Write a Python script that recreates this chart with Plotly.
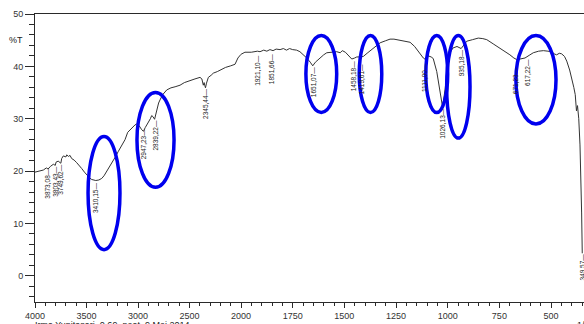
import plotly.graph_objects as go

# ---- spectrum data (wavenumber cm-1, %T) ----
wn_high = [4000, 3950, 3919, 3890, 3873, 3850, 3822, 3803, 3796, 3775, 3749, 3741, 3725, 3700,
           3692, 3675, 3660, 3644, 3620, 3595, 3570, 3547, 3520, 3498, 3470, 3450, 3410, 3380,
           3352, 3330, 3304, 3280, 3255, 3223, 3190, 3158, 3126, 3100, 3061, 3030, 3013, 2990,
           2964, 2947, 2930, 2900, 2880, 2867, 2855, 2839, 2820, 2800, 2786, 2760, 2721, 2680,
           2640, 2592, 2550, 2500, 2447, 2398, 2380, 2366, 2358, 2352, 2345, 2335, 2317, 2290,
           2269, 2230, 2188, 2150, 2100, 2058, 2030, 2000]
t_high = [19.8, 20.0, 20.2, 20.6, 20.4, 20.9, 21.3, 21.1, 21.7, 21.9, 21.5, 22.4, 22.9, 22.7,
          23.1, 22.8, 23.0, 22.4, 22.1, 21.6, 21.1, 20.5, 19.8, 19.25, 18.7, 18.4, 18.2, 18.3,
          18.6, 19.1, 19.9, 20.7, 21.5, 22.6, 23.8, 24.9, 26.0, 27.4, 28.3, 28.8, 29.0, 28.7,
          27.9, 27.6, 28.3, 29.2, 30.0, 30.6, 30.4, 29.9, 31.6, 33.0, 33.6, 34.6, 35.5, 35.9,
          36.1, 36.4, 36.9, 37.3, 37.6, 37.9, 37.6, 36.4, 36.9, 36.4, 35.9, 36.8, 37.9, 38.3,
          38.7, 39.0, 39.4, 39.8, 40.1, 40.4, 41.6, 42.3]

wn_low = [2000, 1981, 1950, 1921, 1908, 1890, 1875, 1860, 1845, 1830, 1811, 1795, 1780, 1765,
          1750, 1731, 1715, 1700, 1682, 1665, 1653, 1640, 1618, 1600, 1585, 1560, 1537, 1520,
          1510, 1495, 1480, 1464, 1450, 1440, 1420, 1408, 1390, 1368, 1345, 1327, 1300, 1279,
          1260, 1231, 1200, 1182, 1160, 1150, 1130, 1118, 1107, 1094, 1080, 1070, 1053, 1037,
          1026, 1020, 1010, 1000, 990, 975, 955, 935, 920, 908, 880, 852, 830, 811, 780, 747,
          720, 699, 680, 666, 650, 626, 606, 586, 560, 537, 515, 497, 485, 473, 460, 449, 435,
          424, 410, 400, 390, 383, 377, 372, 366, 360, 355, 352, 349]
t_low = [42.3, 42.7, 42.7, 42.9, 42.8, 43.1, 42.9, 43.2, 43.0, 43.3, 43.2, 43.4, 43.1, 43.4,
         43.2, 43.1, 42.8, 42.3, 41.6, 40.8, 40.1, 40.8, 41.6, 42.2, 42.6, 42.7, 42.8, 42.6,
         43.0, 42.7, 42.0, 41.4, 41.6, 41.8, 41.8, 41.9, 42.5, 43.2, 43.9, 44.5, 44.9, 45.2,
         45.2, 45.0, 44.8, 44.6, 43.8, 43.3, 42.3, 41.6, 41.3, 42.0, 41.8, 41.5, 39.0, 35.2,
         32.5, 33.5, 36.5, 40.0, 42.5, 43.5, 43.8, 43.4, 44.2, 44.8, 45.1, 45.4, 45.3, 45.1,
         44.3, 43.5, 42.8, 42.2, 41.6, 41.3, 41.4, 41.6, 42.1, 42.6, 42.9, 43.0, 42.9, 42.8,
         42.4, 42.2, 42.5, 42.4, 41.9, 41.0, 39.3, 37.8, 36.0, 34.6, 31.5, 32.5, 30.0, 25.0,
         18.0, 12.0, 4.3]

# ---- peak labels: (wavenumber, text, %T of label centre) ----
peak_wn = [3873.08, 3803.43, 3749.62, 3410.15, 2947.23, 2839.22, 2345.44, 1921.10, 1851.66,
           1651.07, 1458.18, 1419.61, 1111.00, 1026.13, 935.18, 671.23, 617.22, 349.57]
peak_txt = ["3873,08", "3803,43", "3749,62", "3410,15", "2947,23", "2839,22", "2345,44",
            "1921,10", "1851,66", "1651,07", "1458,18", "1419,61", "1111,00", "1026,13",
            "935,18", "671,23", "617,22", "349,57"]
peak_lbl_y = [17.6, 18.0, 18.3, 14.8, 25.2, 26.7, 32.9, 39.2, 39.4, 37.0, 38.1, 37.5, 37.9,
              29.1, 40.6, 37.3, 38.9, 1.6]

# ---- blue circled regions (x0, x1, y0, y1) ----
ell_high = [(3485, 3175, 5.0, 26.6), (3010, 2650, 16.9, 35.0)]
ell_low = [(1686, 1537, 31.2, 45.9), (1428, 1319, 31.2, 45.9), (1106, 1000, 31.2, 45.9),
           (1005, 892, 26.3, 45.9), (670, 476, 29.0, 45.9)]

x_ticks_high = [4000, 3500, 3000, 2500]
x_ticks_low = [2000, 1750, 1500, 1250, 1000, 750, 500]

LINE = "#333333"
AX = "#2a2a2a"
FONT = "Liberation Sans, Arial, sans-serif"

fig = go.Figure()
fig.add_trace(go.Scatter(x=wn_high, y=t_high, mode="lines", xaxis="x", yaxis="y",
                         line=dict(color=LINE, width=1), showlegend=False, hoverinfo="skip"))
fig.add_trace(go.Scatter(x=wn_low, y=t_low, mode="lines", xaxis="x2", yaxis="y",
                         line=dict(color=LINE, width=1), showlegend=False, hoverinfo="skip"))

W, H = 584, 324
ml, mr, mt, mb = 35, 0, 14, 22
pw = W - ml - mr
ph = H - mt - mb
split = 206 / pw

common_x = dict(showgrid=False, zeroline=False, showline=True, linecolor=AX, linewidth=1,
                mirror=True, ticks="outside", ticklen=5, tickcolor=AX,
                tickfont=dict(family=FONT, size=9, color="#333"))

fig.update_layout(
    width=W, height=H, margin=dict(l=ml, r=mr, t=mt, b=mb),
    paper_bgcolor="white", plot_bgcolor="white",
    xaxis=dict(domain=[0, split], range=[4000, 2000], tickmode="array",
               tickvals=x_ticks_high, ticktext=[str(v) for v in x_ticks_high],
               minor=dict(dtick=100, tick0=0, ticks="outside", ticklen=3, tickcolor=AX),
               anchor="y", **common_x),
    xaxis2=dict(domain=[split, 1], range=[2000, 340.6], tickmode="array",
                tickvals=x_ticks_low, ticktext=[str(v) for v in x_ticks_low],
                minor=dict(dtick=50, tick0=0, ticks="outside", ticklen=3, tickcolor=AX),
                anchor="y", **common_x),
    yaxis=dict(range=[-5, 50], dtick=10, tick0=0, showgrid=False, zeroline=False,
               showline=True, linecolor=AX, linewidth=1, ticks="outside", ticklen=9,
               tickcolor=AX, tickfont=dict(family=FONT, size=9, color="#333"),
               minor=dict(dtick=2, tick0=0, ticks="outside", ticklen=5, tickcolor=AX),
               anchor="x"),
)

shapes = []
for x0, x1, y0, y1 in ell_high:
    shapes.append(dict(type="circle", xref="x", yref="y", x0=x0, x1=x1, y0=y0, y1=y1,
                       line=dict(color="#0000EE", width=3.5)))
for x0, x1, y0, y1 in ell_low:
    shapes.append(dict(type="circle", xref="x2", yref="y", x0=x0, x1=x1, y0=y0, y1=y1,
                       line=dict(color="#0000EE", width=3.5)))
fig.update_layout(shapes=shapes)

ann = []
for w, t, yy in zip(peak_wn, peak_txt, peak_lbl_y):
    xr = "x" if w >= 2000 else "x2"
    ann.append(dict(x=w, y=yy, xref=xr, yref="y", text=t + "\u2014", textangle=-90,
                    showarrow=False, xanchor="center", yanchor="middle",
                    font=dict(family=FONT, size=6.5, color="#222")))
ann.append(dict(x=(16 - ml) / pw, y=(H - mb - 40) / ph, xref="paper", yref="paper",
                text="%T", showarrow=False, xanchor="center", yanchor="middle",
                font=dict(family=FONT, size=9, color="#222")))
ann.append(dict(x=(33 - ml) / pw, y=-(317.5 - (H - mb)) / ph, xref="paper", yref="paper",
                text="Irma Yunitasari_0,69_neat_9 Mei 2014", showarrow=False,
                xanchor="left", yanchor="top", font=dict(family=FONT, size=9, color="#222")))
ann.append(dict(x=(575 - ml) / pw, y=-(317.5 - (H - mb)) / ph, xref="paper", yref="paper",
                text="1/cm", showarrow=False, xanchor="left", yanchor="top",
                font=dict(family=FONT, size=9, color="#222")))
fig.update_layout(annotations=ann)

fig.write_html("out.html", config={"displayModeBar": False},
               post_script="document.body.style.margin='0';document.body.style.padding='0';")
